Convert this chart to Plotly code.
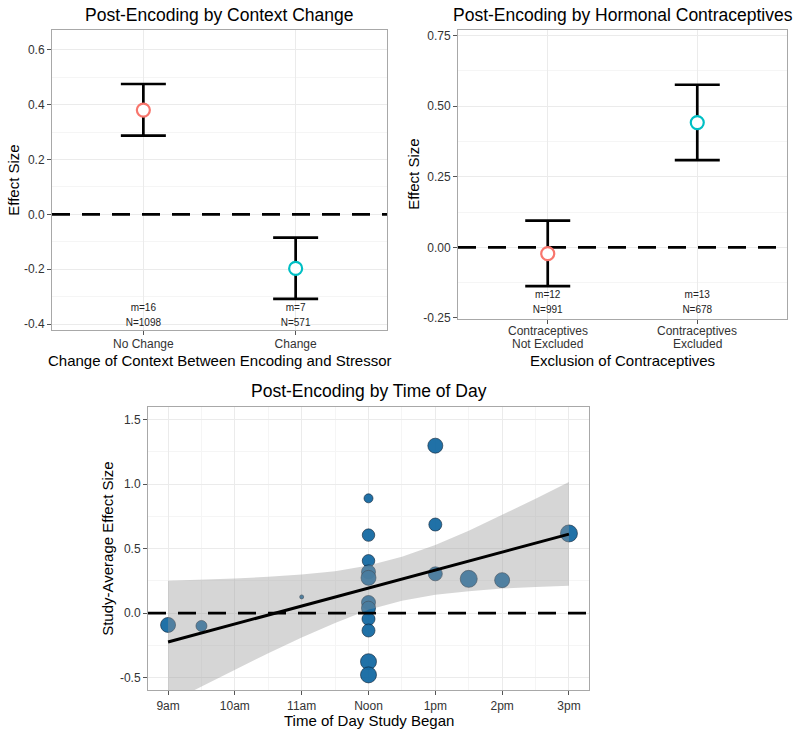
import plotly.graph_objects as go

# ---------------- data ----------------
ctx_cats = ["No Change", "Change"]
ctx_mean = [0.380, -0.197]
ctx_low = [0.287, -0.308]
ctx_high = [0.475, -0.085]
ctx_m = ["m=16", "m=7"]
ctx_n = ["N=1098", "N=571"]

hc_cats_line1 = ["Contraceptives", "Contraceptives"]
hc_cats_line2 = ["Not Excluded", "Excluded"]
hc_mean = [-0.022, 0.442]
hc_low = [-0.137, 0.309]
hc_high = [0.095, 0.576]
hc_m = ["m=12", "m=13"]
hc_n = ["N=991", "N=678"]

tod_hour = [9, 9.5, 11, 12, 12, 12, 12, 12, 12, 12, 12, 12, 12, 12, 13, 13, 13, 13.5, 14, 15]
tod_effect = [-0.092, -0.100, 0.125, 0.889, 0.604, 0.405, 0.319, 0.273, 0.082, 0.038,
              -0.046, -0.135, -0.377, -0.479, 1.297, 0.686, 0.304, 0.265, 0.255, 0.617]
tod_weight = [15, 11, 4, 9, 12.5, 12.5, 14, 15, 14, 14, 13, 13, 16, 16, 15, 13, 14, 17, 15, 17]

fit_hour = [9, 15]
fit_effect = [-0.224, 0.612]

band_hour = [9, 9.5, 10, 10.5, 11, 11.5, 12, 12.5, 13, 13.5, 14, 14.5, 15]
band_upper = [0.251, 0.259, 0.268, 0.281, 0.299, 0.325, 0.369, 0.436, 0.527, 0.638, 0.760, 0.885, 1.016]
band_lower = [-0.699, -0.567, -0.438, -0.311, -0.189, -0.077, 0.025, 0.095, 0.142, 0.170, 0.190, 0.202, 0.212]

hour_ticks = [9, 10, 11, 12, 13, 14, 15]
hour_labels = ["9am", "10am", "11am", "Noon", "1pm", "2pm", "3pm"]
ctx_yticks = [-0.4, -0.2, 0.0, 0.2, 0.4, 0.6]
ctx_ylabels = ["-0.4", "-0.2", "0.0", "0.2", "0.4", "0.6"]
hc_yticks = [-0.25, 0.0, 0.25, 0.5, 0.75]
hc_ylabels = ["-0.25", "0.00", "0.25", "0.50", "0.75"]
tod_yticks = [-0.5, 0.0, 0.5, 1.0, 1.5]
tod_ylabels = ["-0.5", "0.0", "0.5", "1.0", "1.5"]

# ---------------- layout helpers ----------------
W, H = 800, 743
FONT = "Arial, Liberation Sans, sans-serif"
RED = "#F8766D"
TEAL = "#00BFC4"
BLUE = "#156aa3"
DASH = "18px,12px"


def fx(p):
    return p / W


def fy(p):
    return 1 - p / H


fig = go.Figure()

CAT_RANGE = [0.4, 2.6]


def cat_panel(ncat, mean, low, high, mt, nt, mt_y, nt_y, xa, ya):
    pos = list(range(1, ncat + 1))
    # zero reference line (beneath markers)
    fig.add_trace(go.Scatter(x=CAT_RANGE, y=[0, 0], mode="lines", xaxis=xa, yaxis=ya,
                             line=dict(color="black", width=2.7, dash=DASH),
                             showlegend=False, hoverinfo="skip"))
    up = [h - m for h, m in zip(high, mean)]
    dn = [m - l for m, l in zip(mean, low)]
    for i, col in enumerate([RED, TEAL]):
        fig.add_trace(go.Scatter(
            x=[pos[i]], y=[mean[i]], mode="markers", xaxis=xa, yaxis=ya,
            marker=dict(symbol="circle", size=13, color="white", line=dict(color=col, width=2.2)),
            error_y=dict(type="data", symmetric=False, array=[up[i]], arrayminus=[dn[i]],
                         color="black", thickness=2.7, width=22.5),
            showlegend=False, hoverinfo="skip"))
    fig.add_trace(go.Scatter(x=pos, y=[mt_y] * ncat, mode="text", text=mt, xaxis=xa, yaxis=ya,
                             textfont=dict(size=10, color="#222", family=FONT),
                             showlegend=False, hoverinfo="skip"))
    fig.add_trace(go.Scatter(x=pos, y=[nt_y] * ncat, mode="text", text=nt, xaxis=xa, yaxis=ya,
                             textfont=dict(size=10, color="#222", family=FONT),
                             showlegend=False, hoverinfo="skip"))
    return pos


ctx_pos = cat_panel(len(ctx_cats), ctx_mean, ctx_low, ctx_high, ctx_m, ctx_n, -0.343, -0.399, "x", "y")
hc_pos = cat_panel(len(hc_cats_line1), hc_mean, hc_low, hc_high, hc_m, hc_n, -0.172, -0.225, "x2", "y2")

# bottom panel: points, ribbon, fit line, zero line
fig.add_trace(go.Scatter(
    x=tod_hour, y=tod_effect, mode="markers", xaxis="x3", yaxis="y3",
    marker=dict(size=tod_weight, color=BLUE, opacity=0.95,
                line=dict(color="rgba(10,30,50,0.8)", width=0.8)),
    showlegend=False, hoverinfo="skip"))
fig.add_trace(go.Scatter(
    x=band_hour + band_hour[::-1], y=band_upper + band_lower[::-1], mode="lines",
    xaxis="x3", yaxis="y3", fill="toself", fillcolor="rgba(153,153,153,0.4)",
    line=dict(width=0), showlegend=False, hoverinfo="skip"))
fig.add_trace(go.Scatter(
    x=fit_hour, y=fit_effect, mode="lines", xaxis="x3", yaxis="y3",
    line=dict(color="black", width=3), showlegend=False, hoverinfo="skip"))
fig.add_trace(go.Scatter(x=[8.7, 15.3], y=[0, 0], mode="lines", xaxis="x3", yaxis="y3",
                         line=dict(color="black", width=2.7, dash=DASH),
                         showlegend=False, hoverinfo="skip"))

GRID = "#ebebeb"
MINOR = "#f5f5f5"
BORDER = "#a8a8a8"
TICKF = dict(size=12, color="#333333", family=FONT)


def ax_common():
    return dict(showline=True, linecolor=BORDER, linewidth=1, mirror=True,
                ticks="outside", ticklen=4, tickcolor="#555555", tickwidth=1,
                gridcolor=GRID, gridwidth=1, zeroline=False, tickfont=TICKF)


fig.update_layout(
    width=W, height=H, margin=dict(l=0, r=0, t=0, b=0),
    paper_bgcolor="white", plot_bgcolor="white", font=dict(family=FONT),
    xaxis=dict(domain=[fx(52), fx(387)], anchor="y", range=CAT_RANGE,
               tickvals=ctx_pos, ticktext=ctx_cats, ticklabelstandoff=-2, **ax_common()),
    yaxis=dict(domain=[fy(333), fy(29)], anchor="x", range=[-0.423, 0.673],
               tickvals=ctx_yticks, ticktext=ctx_ylabels,
               minor=dict(tickvals=[-0.3, -0.1, 0.1, 0.3, 0.5], showgrid=True,
                          gridcolor=MINOR, gridwidth=0.6, ticks=""),
               **ax_common()),
    xaxis2=dict(domain=[fx(458), fx(787)], anchor="y2", range=CAT_RANGE,
                tickvals=hc_pos, showticklabels=False, **ax_common()),
    yaxis2=dict(domain=[fy(321), fy(29)], anchor="x2", range=[-0.252, 0.771],
                tickvals=hc_yticks, ticktext=hc_ylabels,
                minor=dict(tickvals=[-0.125, 0.125, 0.375, 0.625], showgrid=True,
                           gridcolor=MINOR, gridwidth=0.6, ticks=""),
                **ax_common()),
    xaxis3=dict(domain=[fx(148), fx(589)], anchor="y3", range=[8.7, 15.3],
                tickvals=hour_ticks, ticktext=hour_labels,
                minor=dict(tickvals=[9.5, 10.5, 11.5, 12.5, 13.5, 14.5], showgrid=True,
                           gridcolor=MINOR, gridwidth=0.6, ticks=""),
                **ax_common()),
    yaxis3=dict(domain=[fy(697), fy(410)], anchor="x3", range=[-0.6, 1.6],
                tickvals=tod_yticks, ticktext=tod_ylabels,
                minor=dict(tickvals=[-0.25, 0.25, 0.75, 1.25], showgrid=True,
                           gridcolor=MINOR, gridwidth=0.6, ticks=""),
                **ax_common()),
)

# two-line category labels for the contraceptives panel
for p, l1, l2 in zip(hc_pos, hc_cats_line1, hc_cats_line2):
    fig.add_annotation(text=l1, x=p, xref="x2", y=fy(333.3), yref="paper",
                       xanchor="center", yanchor="middle", showarrow=False, font=TICKF)
    fig.add_annotation(text=l2, x=p, xref="x2", y=fy(346.7), yref="paper",
                       xanchor="center", yanchor="middle", showarrow=False, font=TICKF)

TITLE_F = dict(size=17.5, color="black", family=FONT)
AXT_F = dict(size=15, color="black", family=FONT)
ann = [
    ("Post-Encoding by Context Change", 219.5, 14, TITLE_F, 0),
    ("Post-Encoding by Hormonal Contraceptives", 622.5, 14, TITLE_F, 0),
    ("Post-Encoding by Time of Day", 368.5, 394, TITLE_F, 0),
    ("Change of Context Between Encoding and Stressor", 220, 363.5, AXT_F, 0),
    ("Exclusion of Contraceptives", 622.5, 363.5, AXT_F, 0),
    ("Time of Day Study Began", 368.5, 727.5, AXT_F, 0),
    ("Effect Size", 12.7, 181, AXT_F, -90),
    ("Effect Size", 412.7, 175, AXT_F, -90),
    ("Study-Average Effect Size", 107.3, 553.5, AXT_F, -90),
]
for text, px, py, f, rot in ann:
    fig.add_annotation(text=text, x=fx(px), y=fy(py), xref="paper", yref="paper",
                       xanchor="center", yanchor="middle", showarrow=False,
                       font=f, textangle=rot)

fig.write_html("out.html", config={"displayModeBar": False},
               post_script="document.body.style.margin='0px';")
